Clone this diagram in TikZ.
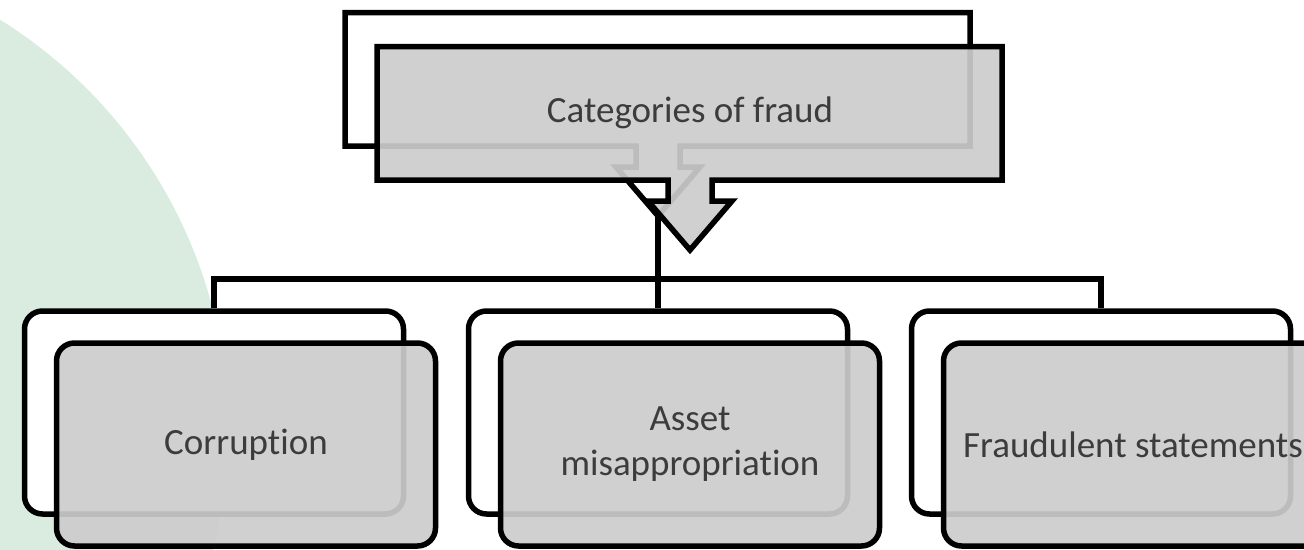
\documentclass[tikz,border=0pt]{standalone}
\usepackage{fontspec}
\setmainfont{Carlito}[Ligatures=NoCommon]
\definecolor{softgreen}{RGB}{218,235,224}
\definecolor{labelgray}{RGB}{60,60,60}
\begin{document}
\begin{tikzpicture}[x=1pt,y=-1pt,
  line width=5.5pt,
  boxbase/.style={draw=black, rounded corners=18pt, minimum width=379pt,
    minimum height=203pt, inner sep=0pt},
  backbox/.style={boxbase, fill=white},
  frontbox/.style={boxbase, fill=black!20, fill opacity=0.92, text opacity=1,
    align=center, text=labelgray, font=\fontsize{37}{45}\selectfont},
  topback/.style={draw=black, fill=white},
  topfront/.style={draw=black, fill=black!20, fill opacity=0.92},
  toptext/.style={text=labelgray, font=\fontsize{37}{45}\selectfont, inner sep=0pt},
  link/.style={draw=black, line width=5.5pt}]

% page and backdrop
\useasboundingbox (0,0) rectangle (1304,549);
\clip (0,0) rectangle (1304,549);
\fill[white] (0,0) rectangle (1304,549);
\fill[softgreen] (-255,430) circle[radius=483];

% rear card of the heading, with its down arrow
\draw[topback] (345,12.5) -- (970,12.5) -- (970,146) -- (680,146) -- (680,167)
  -- (700,167) -- (658,216) -- (616,167) -- (636,167) -- (636,146)
  -- (345,146) -- cycle;

% rear cards of the three categories
\node[backbox] (b1) at (214,412.5) {};
\node[backbox] (b2) at (658,412.5) {};
\node[backbox] (b3) at (1101,412.5) {};

% tree connectors
\coordinate (tip) at (658,216);
\coordinate (bus) at (658,279);
\draw[link] (tip) -- (bus);
\draw[link] (b1.north) |- (bus) -| (b3.north);
\draw[link] (bus) -- (b2.north);

% front card of the heading
\begin{scope}[shift={(32,34)}]
\draw[topfront] (345,12.5) -- (970,12.5) -- (970,146) -- (680,146) -- (680,167)
  -- (700,167) -- (658,216) -- (616,167) -- (636,167) -- (636,146)
  -- (345,146) -- cycle;
\end{scope}
\node[toptext] (title) at (690,113) {Categories of fraud};

% front cards of the three categories
\node[frontbox] (f1) at (246,444.5) {Corruption};
\node[frontbox] (f2) at (690,444.5) {Asset\\misappropriation};
\node[frontbox] (f3) at (1133,444.5) {Fraudulent statements};
\end{tikzpicture}
\end{document}
